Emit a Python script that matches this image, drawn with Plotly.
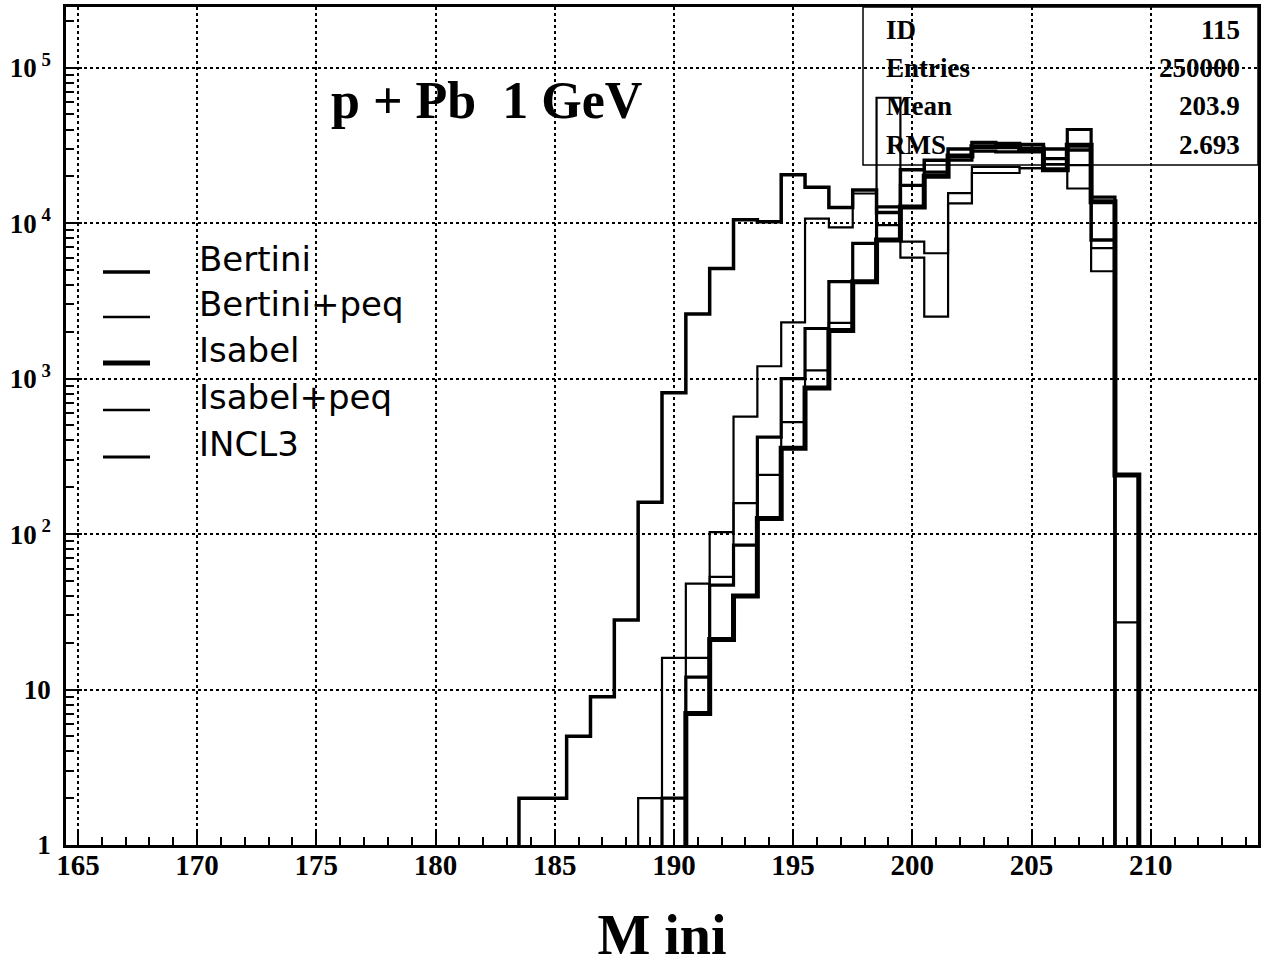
import plotly.graph_objects as go

# ---------------- data (bin centres, unit-width bins) ----------------
bin_centres = list(range(183, 211))  # 183 ... 210

bertini = [0, 2, 2, 5, 9, 28, 160, 810, 2600, 5100, 10500, 10200, 20500, 17000,
           12600, 16300, 11700, 22000, 25400, 30000, 33000, 32500, 32000, 30000,
           29500, 7800, 0, 0]
bertini_peq = [0, 0, 0, 0, 0, 0, 2, 16, 48, 103, 570, 1200, 2300, 10700,
               9400, 15500, 64000, 6000, 2500, 15600, 21000, 21000, 22600, 22000,
               16700, 4900, 0, 0]
isabel = [0, 0, 0, 0, 0, 0, 0, 0, 7, 21, 40, 126, 357, 870,
          2040, 4200, 7800, 12700, 20000, 27000, 31000, 31000, 30000, 22000,
          31700, 13700, 240, 0]
isabel_peq = [0, 0, 0, 0, 0, 0, 0, 0, 16, 53, 158, 240, 525, 1130,
              2280, 4200, 9700, 7600, 6400, 13400, 23000, 23000, 22600, 24000,
              23600, 6900, 27, 0]
incl3 = [0, 0, 0, 0, 0, 0, 0, 2, 12, 47, 85, 420, 1000, 2100,
         4200, 7400, 12700, 17500, 21300, 25400, 29000, 28700, 28700, 26000,
         40000, 14700, 0, 0]

series_names = ["Bertini", "Bertini+peq", "Isabel", "Isabel+peq", "INCL3"]
series_values = [bertini, bertini_peq, isabel, isabel_peq, incl3]
series_widths = [3.5, 2.2, 5, 2.2, 3.2]

x_ticks = [165, 170, 175, 180, 185, 190, 195, 200, 205, 210]
y_ticks = [1, 10, 100, 1000, 10000, 100000]
y_ticktext = ["1", "10", "10<sup> 2</sup>", "10<sup> 3</sup>", "10<sup> 4</sup>", "10<sup> 5</sup>"]

stat_labels = ["ID", "Entries", "Mean", "RMS"]
stat_values = ["115", "250000", "203.9", "2.693"]

# ---------------- geometry helpers (plot area in pixels) ----------------
W, H = 1267, 967
ML, MR, MT, MB = 66, 9, 7, 122
PW, PH = W - ML - MR, H - MT - MB


def px(xpix):
    return (xpix - ML) / PW


def py(ypix):
    return (H - MB - ypix) / PH


# ---------------- figure ----------------
SERIF = "Liberation Serif, Times New Roman, serif"
fig = go.Figure()

EMPTY_FLOOR = 0.05  # empty bins drawn below the axis floor (clipped)
for name, vals, w in zip(series_names, series_values, series_widths):
    edges = [c - 0.5 for c in bin_centres] + [bin_centres[-1] + 0.5]
    ys = [v if v > 0 else EMPTY_FLOOR for v in vals]
    ys = ys + [ys[-1]]
    fig.add_trace(go.Scatter(
        x=edges, y=ys, mode="lines", name=name,
        line=dict(shape="hv", color="black", width=w),
        hoverinfo="skip", showlegend=False,
    ))

minor_y = [k * 10 ** d for d in range(0, 6) for k in range(2, 10)]

fig.update_layout(
    width=W, height=H,
    margin=dict(l=ML, r=MR, t=MT, b=MB, autoexpand=False),
    paper_bgcolor="white", plot_bgcolor="white",
    showlegend=False,
    xaxis=dict(
        range=[164.5, 214.5], automargin=False,
        tickmode="array", tickvals=x_ticks,
        ticks="inside", ticklen=16, tickwidth=2, tickcolor="black",
        minor=dict(dtick=1, tick0=165, ticks="inside", ticklen=8, tickwidth=1.5,
                   tickcolor="black", showgrid=False),
        showgrid=True, gridcolor="black", griddash="dot", gridwidth=1.5,
        showline=True, linecolor="black", linewidth=3, mirror=True,
        zeroline=False,
        tickfont=dict(family=SERIF, size=29, color="black", weight="bold"),
        ticklabelstandoff=-8,
        title=dict(text="<b>M ini</b>", font=dict(family=SERIF, size=56, color="black"),
                   standoff=36),
    ),
    yaxis=dict(
        type="log", range=[0, 5.39], automargin=False,
        tickmode="array", tickvals=y_ticks, ticktext=y_ticktext,
        ticks="inside", ticklen=16, tickwidth=2, tickcolor="black",
        minor=dict(tickmode="array", tickvals=minor_y, ticks="inside", ticklen=8,
                   tickwidth=1.5, tickcolor="black", showgrid=False),
        showgrid=True, gridcolor="black", griddash="dot", gridwidth=1.5,
        showline=True, linecolor="black", linewidth=2.5, mirror=True,
        zeroline=False,
        tickfont=dict(family=SERIF, size=27, color="black", weight="bold"),
        ticklabelstandoff=7,
    ),
)

# legend drawn inside the frame (line sample + label per series)
legend_rows = [272, 317, 363, 410, 457]
for name, w, yrow in zip(series_names, series_widths, legend_rows):
    fig.add_shape(type="line", xref="paper", yref="paper",
                  x0=px(103), x1=px(150), y0=py(yrow), y1=py(yrow),
                  line=dict(color="black", width=max(w, 2.5)))
    fig.add_annotation(text=name, xref="paper", yref="paper",
                       x=px(197), y=py(yrow - 13), xanchor="left", yanchor="middle",
                       showarrow=False,
                       font=dict(family="DejaVu Sans, sans-serif", size=34, color="black"))

# title inside the frame
fig.add_annotation(
    text="<b>p + Pb  1 GeV</b>", xref="paper", yref="paper",
    x=px(486), y=py(100), xanchor="center", yanchor="middle", showarrow=False,
    font=dict(family=SERIF, size=52, color="black"),
)

# statistics box
fig.add_shape(type="rect", xref="paper", yref="paper",
              x0=px(863), x1=1.0, y0=py(165), y1=1.0,
              line=dict(color="black", width=1.5), fillcolor="rgba(0,0,0,0)")
row_y = [30, 68, 106, 145]
for lab, val, yy in zip(stat_labels, stat_values, row_y):
    fig.add_annotation(text="<b>%s</b>" % lab, xref="paper", yref="paper",
                       x=px(884), y=py(yy), xanchor="left", yanchor="middle", showarrow=False,
                       font=dict(family=SERIF, size=27, color="black"))
    fig.add_annotation(text="<b>%s</b>" % val, xref="paper", yref="paper",
                       x=px(1242), y=py(yy), xanchor="right", yanchor="middle", showarrow=False,
                       font=dict(family=SERIF, size=27, color="black"))

fig.write_html("out.html")
